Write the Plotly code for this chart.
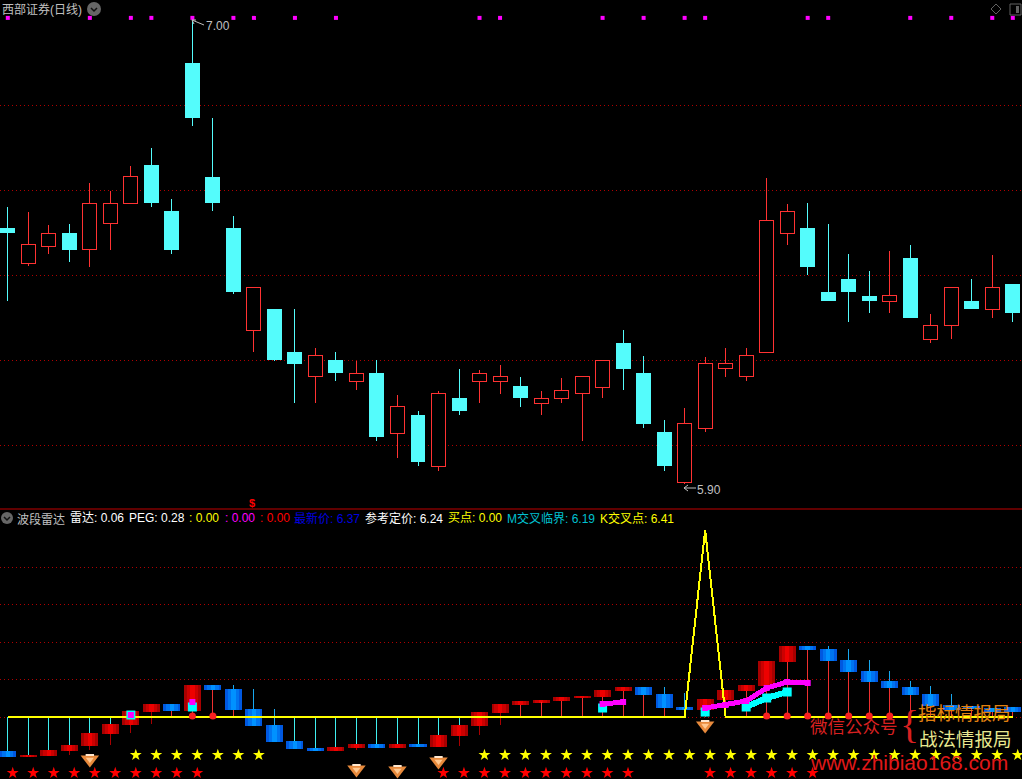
import plotly.graph_objects as go

# ---------- price pane data ----------
open_ = [6.507,6.424,6.464,6.495,6.455,6.517,6.566,6.656,6.547,6.898,6.628,6.507,6.263,6.315,6.213,6.154,6.194,6.144,6.163,6.021,
         6.064,5.943,6.104,6.144,6.144,6.133,6.092,6.104,6.114,6.130,6.234,6.163,6.024,5.903,6.033,6.173,6.154,6.213,6.495,6.507,
         6.355,6.386,6.346,6.332,6.436,6.244,6.275,6.334,6.315,6.374]
high = [6.557,6.545,6.514,6.517,6.614,6.595,6.654,6.697,6.576,7.000,6.768,6.535,6.365,6.315,6.315,6.223,6.213,6.192,6.194,6.111,
        6.073,6.121,6.173,6.171,6.182,6.154,6.121,6.152,6.154,6.194,6.265,6.204,6.052,6.080,6.201,6.223,6.223,6.626,6.564,6.566,
        6.517,6.445,6.405,6.453,6.467,6.303,6.365,6.386,6.443,6.374]
low = [6.334,6.417,6.445,6.426,6.415,6.455,6.566,6.557,6.445,6.749,6.547,6.351,6.213,6.192,6.092,6.092,6.144,6.123,6.002,5.962,
       5.943,5.931,6.064,6.092,6.114,6.083,6.064,6.092,6.002,6.104,6.123,6.033,5.931,5.900,6.024,6.154,6.144,6.213,6.467,6.396,
       6.334,6.284,6.306,6.306,6.294,6.234,6.244,6.315,6.294,6.284]
close = [6.495,6.467,6.495,6.455,6.566,6.566,6.628,6.566,6.455,6.768,6.566,6.355,6.365,6.194,6.185,6.204,6.163,6.163,6.012,6.083,
         5.952,6.114,6.073,6.163,6.154,6.104,6.104,6.123,6.154,6.194,6.173,6.043,5.943,6.043,6.185,6.185,6.204,6.526,6.547,6.415,
         6.334,6.355,6.334,6.346,6.294,6.275,6.365,6.315,6.365,6.306]
price_grid = [6.798, 6.597, 6.395, 6.194, 5.992]
signal_price = 7.005
signal_idx = [0,4,6,7,9,11,12,14,16,23,24,29,31,33,34,39,40,44,46,48,49]

# ---------- indicator pane data ----------
sub_top = [-.907,-1.013,-.88,-.747,-.427,-.187,.16,.347,.347,.853,.853,.747,.213,-.213,-.64,-.827,-.8,-.72,-.72,-.72,
           -.72,-.48,-.213,.133,.347,.427,.453,.533,.56,.72,.8,.8,.613,.267,.48,.72,.853,1.493,1.893,1.893,
           1.813,1.52,1.227,.96,.8,.613,.32,.293,.24,.267]
sub_bot = [-1.067,-1.067,-1.04,-.907,-.773,-.453,-.213,.133,.16,.16,.72,.187,-.24,-.667,-.853,-.907,-.907,-.827,-.827,-.827,
           -.8,-.8,-.507,-.24,.107,.32,.4,.427,.507,.533,.693,.587,.24,.187,.187,.453,.693,.827,1.467,1.787,
           1.493,1.2,.933,.773,.587,.293,.187,.213,.133,.133]
blue_idx = [0,8,10,11,12,13,14,15,18,20,31,32,33,39,40,41,42,43,44,45,46,47,48,49]
upper_wicks = {11:.853,12:.747,13:.213,32:.8,33:.64,40:1.893,41:1.813,42:1.52,43:1.227,44:.96,45:.827,46:.613}
lower_wicks = {1:-1.013,3:-1.013,4:-.88,5:-.747,6:-.427,7:-.187,17:-.88,22:-.773,23:-.48,24:-.213}
radar = [0]*34 + [4.987] + [0]*15
magenta_i = [6,None,9,None,29,30,None,34,35,36,37,38,39]
magenta_v = [.053,None,.4,None,.347,.4,None,.24,.32,.427,.773,.933,.907]
cyan_i = [6,None,9,None,29,None,34,None,36,37,38]
cyan_v = [.053,None,.267,None,.24,None,.133,None,.267,.507,.667]
dot_idx = [9,10,37,38,39,40,41,42,43]
dot_v = 0.027
yellow_star_idx = list(range(6,13)) + list(range(23,50))
red_star_idx = list(range(0,10)) + list(range(21,31)) + list(range(34,40))
yellow_star_v, red_star_v = -1.013, -1.493
gem_idx = [4,17,19,21,34]
gem_v = [-1.173,-1.44,-1.467,-1.227,-.267]
sub_grid = [0,1,2,3,4]

W, H = 1022, 779
X0, DX = 7.8, 20.51
RED, CYAN = "#ff3232", "#54fcfc"
def px(x): return x / W
def py(y): return 1 - y / H

idx = list(range(len(open_)))
fig = go.Figure()

def segs(pairs):
    xs, ys = [], []
    for i, a, b in pairs:
        xs += [i, i, None]; ys += [a, b, None]
    return xs, ys

def add_segs(pairs, color, axis, width=1):
    xs, ys = segs(pairs)
    fig.add_trace(go.Scatter(x=xs, y=ys, mode="lines", line=dict(color=color, width=width),
                             yaxis=axis, hoverinfo="skip", connectgaps=False))

up = [i for i in idx if close[i] >= open_[i]]
dn = [i for i in idx if close[i] < open_[i]]
for group, col in ((up, RED), (dn, CYAN)):
    pairs = []
    for i in group:
        t, b = max(open_[i], close[i]), min(open_[i], close[i])
        if high[i] > t: pairs.append((i, high[i], t))
        if low[i] < b: pairs.append((i, b, low[i]))
    add_segs(pairs, col, "y")

fig.add_trace(go.Bar(x=up, base=[open_[i] for i in up], y=[close[i]-open_[i] for i in up], width=0.68,
                     marker=dict(color="#000000", line=dict(color=RED, width=1)), yaxis="y", hoverinfo="skip"))
fig.add_trace(go.Bar(x=dn, base=[close[i] for i in dn], y=[open_[i]-close[i] for i in dn], width=0.73,
                     marker=dict(color=CYAN, line=dict(width=0)), yaxis="y", hoverinfo="skip"))

fig.add_trace(go.Scatter(x=signal_idx, y=[signal_price]*len(signal_idx), mode="markers",
                         marker=dict(symbol="square", size=4, color="#ff00ff"), yaxis="y", hoverinfo="skip"))

red_idx = [i for i in idx if i not in blue_idx]
for group, shades in ((red_idx, ("#a80000", "#cc0000", "#ee0000")), (blue_idx, ("#0058e0", "#0074f0", "#0092ff"))):
    for w, c in zip((0.83, 0.55, 0.22), shades):
        fig.add_trace(go.Bar(x=group, base=[sub_bot[i] for i in group], y=[sub_top[i]-sub_bot[i] for i in group],
                             width=w, marker=dict(color=c, line=dict(width=0)), yaxis="y2", hoverinfo="skip"))

add_segs([(i, 0, sub_top[i]) for i in idx if sub_top[i] < 0], "#40eef0", "y2")
add_segs([(i, sub_bot[i], 0) for i in idx if sub_bot[i] > 0], "#f03030", "y2")
add_segs([(i, v, sub_top[i]) for i, v in upper_wicks.items()], "#18a8f0", "y2")
add_segs([(i, sub_bot[i], v) for i, v in lower_wicks.items()], "#a80000", "y2")

fig.add_trace(go.Scatter(x=idx, y=radar, mode="lines", line=dict(color="#ffff00", width=2),
                         yaxis="y2", hoverinfo="skip"))
fig.add_trace(go.Scatter(x=dot_idx, y=[dot_v]*len(dot_idx), mode="markers",
                         marker=dict(symbol="circle", size=7, color="#f82020"), yaxis="y2", hoverinfo="skip"))
fig.add_trace(go.Scatter(x=cyan_i, y=cyan_v, mode="lines+markers", line=dict(color="#00ffff", width=6),
                         marker=dict(symbol="square", size=9, color="#00ffff"), yaxis="y2", hoverinfo="skip"))
fig.add_trace(go.Scatter(x=magenta_i, y=magenta_v, mode="lines+markers", line=dict(color="#ff00ff", width=5),
                         marker=dict(symbol="square", size=6, color="#ff00ff"), yaxis="y2", hoverinfo="skip"))

fig.add_trace(go.Scatter(x=[i+.24 for i in yellow_star_idx], y=[yellow_star_v]*len(yellow_star_idx), mode="markers",
                         marker=dict(symbol="star", size=9, color="#ffff00", line=dict(width=0)), yaxis="y2", hoverinfo="skip"))
fig.add_trace(go.Scatter(x=[i+.24 for i in red_star_idx], y=[red_star_v]*len(red_star_idx), mode="markers",
                         marker=dict(symbol="star", size=9, color="#ff0000", line=dict(width=0)), yaxis="y2", hoverinfo="skip"))
fig.add_trace(go.Scatter(x=gem_idx, y=[v+.04 for v in gem_v], mode="markers",
                         marker=dict(symbol="triangle-down", size=16, color="#e88a3c", line=dict(width=0)), yaxis="y2", hoverinfo="skip"))
fig.add_trace(go.Scatter(x=gem_idx, y=[v+.04 for v in gem_v], mode="markers",
                         marker=dict(symbol="triangle-down", size=7, color="#ffc890", line=dict(width=0)), yaxis="y2", hoverinfo="skip"))
fig.add_trace(go.Scatter(x=gem_idx, y=[v+.16 for v in gem_v], mode="markers",
                         marker=dict(symbol="line-ew", size=6, line=dict(color="#ffe8d0", width=2)), yaxis="y2", hoverinfo="skip"))

# ---------- text ----------
SANS = "Liberation Sans, Noto Sans CJK SC"
CJK = "Noto Sans CJK SC"
labels = [
    ("西部证券(日线)", 2, 9, "#c0c0c0", 12, SANS),
    ("7.00", 206, 26, "#c0c0c0", 12, SANS),
    ("5.90", 697, 490, "#c0c0c0", 12, SANS),
    ("<b>$</b>", 249, 503, "#ff0000", 11, SANS),
    ("波段雷达", 17, 518, "#c0c0c0", 12, CJK),
    ("雷达: 0.06", 70, 518, "#ffffff", 12, SANS),
    ("PEG: 0.28", 129, 518, "#ffffff", 12, SANS),
    (": 0.00", 189, 518, "#ffff00", 12, SANS),
    (": 0.00", 225, 518, "#ff00ff", 12, SANS),
    (": 0.00", 260, 518, "#ff0000", 12, SANS),
    ("最新价: 6.37", 294, 518, "#0000e0", 12, SANS),
    ("参考定价: 6.24", 365, 518, "#ffffff", 12, SANS),
    ("买点: 0.00", 448, 518, "#ffff00", 12, SANS),
    ("M交叉临界: 6.19", 507, 518, "#00c0d0", 12, SANS),
    ("K交叉点: 6.41", 600, 518, "#ffff00", 12, SANS),
    ("微信公众号", 810, 725, "#d82020", 17.5, CJK),
    ("指标情报局", 918, 712, "#e08010", 18.5, CJK),
    ("战法情报局", 919, 738, "#e8e890", 18.5, CJK),
    ("{", 900, 724, "#d82020", 40, "Liberation Serif"),
    ("www.zhibiao168.com", 810, 762, "#e01818", 21, "Liberation Sans"),
]
TEXT_PAD = 2
annots = [dict(text=t, x=px(x - TEXT_PAD), y=py(y), xref="paper", yref="paper", xanchor="left", yanchor="middle",
               showarrow=False, font=dict(color=c, size=s, family=f)) for t, x, y, c, s, f in labels]

def circle_icon(cx, cy, r):
    return [
        dict(type="circle", xref="paper", yref="paper", x0=px(cx-r), x1=px(cx+r), y0=py(cy+r), y1=py(cy-r),
             fillcolor="#666666", line=dict(width=0)),
        dict(type="path", xref="paper", yref="paper",
             path=f"M {px(cx-3)} {py(cy-1)} L {px(cx)} {py(cy+2)} L {px(cx+3)} {py(cy-1)}",
             line=dict(color="#111111", width=1.5)),
    ]

def pline(x0, y0, x1, y1, color, width=1):
    return dict(type="line", xref="paper", yref="paper", x0=px(x0), y0=py(y0), x1=px(x1), y1=py(y1),
                line=dict(color=color, width=width))

shapes = circle_icon(94, 9, 7) + circle_icon(7, 518, 6) + [
    pline(0, 509, W, 509, "#c00000", 1),
    pline(192, 20, 204, 25, "#c0c0c0"), pline(192, 20, 196, 20, "#c0c0c0"), pline(192, 20, 194, 24, "#c0c0c0"),
    pline(684, 488, 696, 488, "#c0c0c0"), pline(684, 488, 688, 485, "#c0c0c0"), pline(684, 488, 688, 491, "#c0c0c0"),
    dict(type="path", xref="paper", yref="paper",
         path=f"M {px(996)} {py(4)} L {px(1001)} {py(9)} L {px(996)} {py(14)} L {px(991)} {py(9)} Z",
         line=dict(color="#606060", width=1)),
    dict(type="rect", xref="paper", yref="paper", x0=px(1010), x1=px(1021), y0=py(15), y1=py(4),
         line=dict(color="#606060", width=1)),
    dict(type="rect", xref="paper", yref="paper", x0=px(1016), x1=px(1019), y0=py(13), y1=py(6),
         fillcolor="#606060", line=dict(width=0)),
]

x_range = [(0 - X0) / DX, (W - X0) / DX]
fig.update_layout(
    width=W, height=H, margin=dict(l=0, r=0, t=0, b=0, pad=0), autosize=False,
    paper_bgcolor="#000000", plot_bgcolor="#000000", showlegend=False, barmode="overlay", hovermode=False,
    xaxis=dict(range=x_range, visible=False, fixedrange=True),
    yaxis=dict(domain=[1 - 495 / H, 1], range=[5.8743, 7.0474], tickvals=price_grid, showticklabels=False,
               ticks="", zeroline=False, showline=False, showgrid=True, gridcolor="#b00000", griddash="1px,3px",
               gridwidth=1, fixedrange=True),
    yaxis2=dict(domain=[0, 269 / H], range=[-1.653, 5.52], tickvals=sub_grid, showticklabels=False,
                ticks="", zeroline=False, showline=False, showgrid=True, gridcolor="#b00000", griddash="1px,3px",
                gridwidth=1, fixedrange=True),
    annotations=annots, shapes=shapes,
)
fig.write_html("out.html", config={"displayModeBar": False},
               post_script="document.body.style.margin='0';document.body.style.background='#000';"
                           "document.documentElement.style.overflow='hidden';"
                           "var s=document.createElement('style');"
                           "s.textContent='.js-line,.bars path{shape-rendering:crispEdges !important}';"
                           "document.head.appendChild(s);")
